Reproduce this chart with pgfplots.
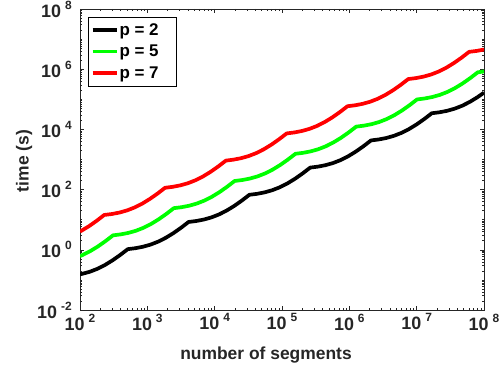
\documentclass[border=0pt]{standalone}
\usepackage{fontspec}
\setmainfont{Liberation Sans}
\usepackage{pgfplots}
\pgfplotsset{compat=1.18}
\definecolor{axgray}{gray}{0.15}
\definecolor{mgreen}{rgb}{0,1,0}
\definecolor{mred}{rgb}{1,0,0}
% power-of-ten tick label: base with a raised exponent
\newcommand{\tl}[1]{10\hspace{4bp}\raisebox{8bp}{\fontsize{12}{12}\selectfont #1}}
\begin{document}
\begin{tikzpicture}
\useasboundingbox (-80bp,-61bp) rectangle (421bp,310bp);
\begin{axis}[
  at={(0,0)}, anchor=south west,
  scale only axis, width=404bp, height=301bp,
  xmode=log, ymode=log,
  xmin=1e2, xmax=1e8, ymin=1e-2, ymax=1e8,
  xtick={1e2,1e3,1e4,1e5,1e6,1e7,1e8},
  xticklabels={\tl{2},\tl{3},\tl{4},\tl{5},\tl{6},\tl{7},\tl{8}},
  ytick={1e-2,1e0,1e2,1e4,1e6,1e8},
  yticklabels={\tl{-2},\tl{0},\tl{2},\tl{4},\tl{6},\tl{8}},
  minor xtick={2e2,3e2,4e2,5e2,6e2,7e2,8e2,9e2,
    2e3,3e3,4e3,5e3,6e3,7e3,8e3,9e3,
    2e4,3e4,4e4,5e4,6e4,7e4,8e4,9e4,
    2e5,3e5,4e5,5e5,6e5,7e5,8e5,9e5,
    2e6,3e6,4e6,5e6,6e6,7e6,8e6,9e6,
    2e7,3e7,4e7,5e7,6e7,7e7,8e7,9e7},
  minor ytick={2e-2,3e-2,4e-2,5e-2,6e-2,7e-2,8e-2,9e-2,
    1e-1,2e-1,3e-1,4e-1,5e-1,6e-1,7e-1,8e-1,9e-1,
    2e0,3e0,4e0,5e0,6e0,7e0,8e0,9e0,
    1e1,2e1,3e1,4e1,5e1,6e1,7e1,8e1,9e1,
    2e2,3e2,4e2,5e2,6e2,7e2,8e2,9e2,
    1e3,2e3,3e3,4e3,5e3,6e3,7e3,8e3,9e3,
    2e4,3e4,4e4,5e4,6e4,7e4,8e4,9e4,
    1e5,2e5,3e5,4e5,5e5,6e5,7e5,8e5,9e5,
    2e6,3e6,4e6,5e6,6e6,7e6,8e6,9e6,
    1e7,2e7,3e7,4e7,5e7,6e7,7e7,8e7,9e7},
  tick pos=both, tick align=inside,
  major tick length=4bp, minor tick length=2.5bp,
  every tick/.style={draw=axgray, line width=0.5bp},
  axis line style={draw=axgray, line width=0.6bp},
  ticklabel style={font=\fontsize{18}{18}\selectfont\bfseries, text=axgray},
  xticklabel style={anchor=north, inner sep=0pt, yshift=-3.5bp},
  yticklabel style={anchor=east, inner sep=0pt, xshift=-8bp},
  xlabel={number of segments}, ylabel={time (s)},
  label style={font=\fontsize{17.5}{17.5}\selectfont\bfseries, text=axgray},
  xlabel style={at={(axis description cs:0.4604,-0.1495)}, anchor=center},
  ylabel style={at={(axis description cs:-0.1386,0.495)}, anchor=center},
  legend style={at={(axis description cs:0.0198,0.9734)}, anchor=north west,
    draw=black, line width=0.5bp, fill=white,
    font=\fontsize{17}{17}\selectfont\bfseries,
    inner xsep=2.5bp, inner ysep=2bp, row sep=0pt,
    nodes={inner sep=0pt}},
  legend cell align=left,
  % each sample reserves a full row height so the entries sit 21.5bp apart
  legend image code/.code={%
    \path[draw=none, fill=none] (0bp,-10.75bp) rectangle (27bp,10.75bp);
    \draw[#1] (0bp,0bp) -- (24bp,0bp);},
  every axis plot/.append style={line width=3.7bp, line join=round},
]
% p = 2
\addplot[black] coordinates {
 (100,0.15231) (139.59,0.18604) (181.02,0.23333) (234.75,0.31288) (304.44,0.44665) (394.81,0.67163) (512,1.05)
 (663.98,1.12954) (861.08,1.26332) (1116.68,1.4883) (1448.16,1.86667) (1878.03,2.50301) (2435.5,3.5732) (3158.45,5.37304) (4096,8.4)
 (5311.8,9.0363) (6888.6,10.1066) (8933.4,11.9064) (11585.3,14.9334) (15024.2,20.0241) (19484,28.5856) (25267.6,42.9843) (32768,67.2)
 (42494.7,72.2906) (55109.1,80.8528) (71467.5,95.2512) (92682.4,119.467) (120194,160.193) (155872,228.685) (202141,343.874) (262144,537.6)
 (339958,578.325) (440873,646.822) (571740,762.01) (741459,955.736) (961552,1281.54) (1246976,1829.48) (1617128,2750.99) (2097152,4300.8)
 (2719664,4626.6) (3526984,5174.58) (4573920,6096.08) (5931672,7645.89) (7692416,10252.3) (9975808,14635.8) (12937024,22007.9) (16777216,34406.4)
 (21757312,37012.8) (28215872,41396.6) (36591360,48768.6) (47453376,61167.1) (61539328,82018.4) (79806464,117086) (100000000,166420)
};
\addlegendentry{\makebox[54bp][l]{p = 2}}
% p = 5
\addplot[mgreen] coordinates {
 (100,0.6163) (109.26,0.67111) (141.69,0.89989) (183.75,1.28465) (238.3,1.93174) (309.03,3.02)
 (400.76,3.24878) (519.72,3.63354) (674,4.28063) (874.08,5.36889) (1133.52,7.19912) (1470,10.2772) (1906.36,15.4539) (2472.24,24.16)
 (3206.1,25.990) (4157.8,29.068) (5392,34.245) (6992.6,42.951) (9068.2,57.593) (11760,82.218) (15250.9,123.631) (19777.9,193.28)
 (25649,207.92) (33262,232.55) (43136,273.96) (55941,343.61) (72545,460.74) (94080,657.74) (122007,989.05) (158223,1546.24)
 (205189,1663.4) (266097,1860.4) (345088,2191.7) (447529,2748.9) (580362,3685.9) (752640,5261.9) (976056,7912.4) (1265787,12369.9)
 (1641513,13307) (2128773,14883) (2760704,17533) (3580232,21991) (4642898,29488) (6021120,42095) (7808451,63299) (10126295,98959)
 (13132104,106457) (17030185,119064) (22085632,140269) (28641853,175928) (37143183,235901) (48168960,336763) (62467604,506393) (81010360,791675)
 (100000000,837750)
};
\addlegendentry{\makebox[54bp][l]{p = 5}}
% p = 7
\addplot[mred] coordinates {
 (100,4.0257) (136.22,6.10636) (176.65,9.18217) (229.09,14.355)
 (297.09,15.4425) (385.28,17.2713) (499.65,20.3472) (647.96,25.52) (840.31,34.2197) (1089.74,48.8507) (1413.22,73.4571) (1832.72,114.84)
 (2376.7,123.54) (3082.2,138.17) (3997.2,162.78) (5183.7,204.16) (6722.5,273.76) (8717.9,390.81) (11305.8,587.66) (14661.8,918.72)
 (19013.8,988.32) (24657.9,1105.36) (31977.6,1302.22) (41469.4,1633.28) (53779.8,2190.06) (69743.4,3126.44) (90446.1,4701.25) (117294,7349.76)
 (152110,7906.56) (197263,8842.91) (255821,10417.8) (331756,13066.2) (430239,17520.5) (557947,25011.6) (723569,37610) (938353,58798.1)
 (1216881,63252.5) (1578107,70743.2) (2046566,83342.1) (2654044,104530) (3441910,140164) (4463575,200092) (5788549,300880) (7506821,470385)
 (9735045,506020) (12624855,565946) (16372531,666737) (21232353,836239) (27535278,1121311) (35708601,1600740) (46308393,2407042) (60054570,3763077)
 (77881164,4048150) (100000000,4504289)
};
\addlegendentry{\makebox[54bp][l]{p = 7}}
\end{axis}
\end{tikzpicture}
\end{document}
